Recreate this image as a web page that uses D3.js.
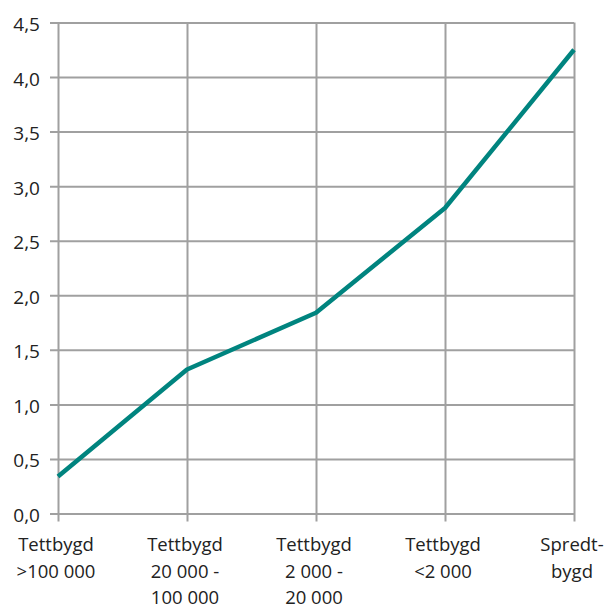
<!DOCTYPE html>
<html>
<head>
<meta charset="utf-8">
<script src="https://cdn.jsdelivr.net/npm/d3@7"></script>
<style>
  html, body { margin: 0; padding: 0; background: #fff; }
  svg { display: block; }
  text { font-family: "Open Sans", "Noto Sans", sans-serif; fill: #222; }
</style>
</head>
<body>
<svg id="chart" width="609" height="611"></svg>
<script>
// Settlement categories (multi-line labels) and their values
const categories = [
  ["Tettbygd", ">100 000"],
  ["Tettbygd", "20 000 -", "100 000"],
  ["Tettbygd", "2 000 -", "20 000"],
  ["Tettbygd", "<2 000"],
  ["Spredt-", "bygd"]
];
const values = [0.34, 1.32, 1.84, 2.80, 4.25];
const yTicks = [0, 0.5, 1, 1.5, 2, 2.5, 3, 3.5, 4, 4.5];

const W = 609, H = 611;
const margin = { left: 58, right: 35, top: 22.5, bottom: 97.5 };
const svg = d3.select("#chart");

const keys = categories.map((c, i) => i);
const x = d3.scalePoint()
  .domain(keys)
  .range([margin.left, W - margin.right])
  .padding(0);
const y = d3.scaleLinear()
  .domain([0, 4.5])
  .range([H - margin.bottom, margin.top]);

const nb = d3.formatLocale({ decimal: ",", thousands: " ", grouping: [3], currency: ["", ""] });
const fmt = nb.format(".1f");

const gridColor = "#a0a0a0";
const plotW = (W - margin.right) - margin.left;
const plotH = (H - margin.bottom) - margin.top;

// Horizontal gridlines + y ticks
const yAxis = svg.append("g")
  .attr("transform", `translate(${margin.left},0)`)
  .call(d3.axisLeft(y).tickValues(yTicks).tickFormat(fmt)
    .tickSizeInner(-plotW).tickSizeOuter(0).tickPadding(18));
yAxis.select(".domain").remove();
yAxis.selectAll(".tick line")
  .attr("x1", -8)
  .attr("stroke", gridColor).attr("stroke-width", 2);
yAxis.selectAll(".tick text")
  .attr("font-size", 19).attr("dy", "0.42em").style("fill", "#222");

// Vertical gridlines + x ticks
const xAxis = svg.append("g")
  .attr("transform", `translate(0,${H - margin.bottom})`)
  .call(d3.axisBottom(x).tickSizeInner(-plotH).tickSizeOuter(0).tickFormat(() => ""));
xAxis.select(".domain").remove();
xAxis.selectAll(".tick line")
  .attr("y1", 8)
  .attr("stroke", gridColor).attr("stroke-width", 2);
xAxis.selectAll(".tick text").remove();

// Multi-line category labels
const lbl = svg.append("g");
categories.forEach((lines, i) => {
  const t = lbl.append("text")
    .attr("text-anchor", "middle")
    .attr("font-size", 18.5)
    .attr("x", x(i) - 2)
    .attr("y", 551);
  lines.forEach((s, j) => {
    t.append("tspan").attr("x", x(i) - 2).attr("y", 551 + j * 26.5).text(s);
  });
});

// Data line
const line = d3.line()
  .x((d, i) => x(i))
  .y(d => y(d));
svg.append("path")
  .datum(values)
  .attr("d", line)
  .attr("fill", "none")
  .attr("stroke", "#00847f")
  .attr("stroke-width", 4.5)
  .attr("stroke-linejoin", "round")
  .attr("stroke-linecap", "butt");
</script>
</body>
</html>
